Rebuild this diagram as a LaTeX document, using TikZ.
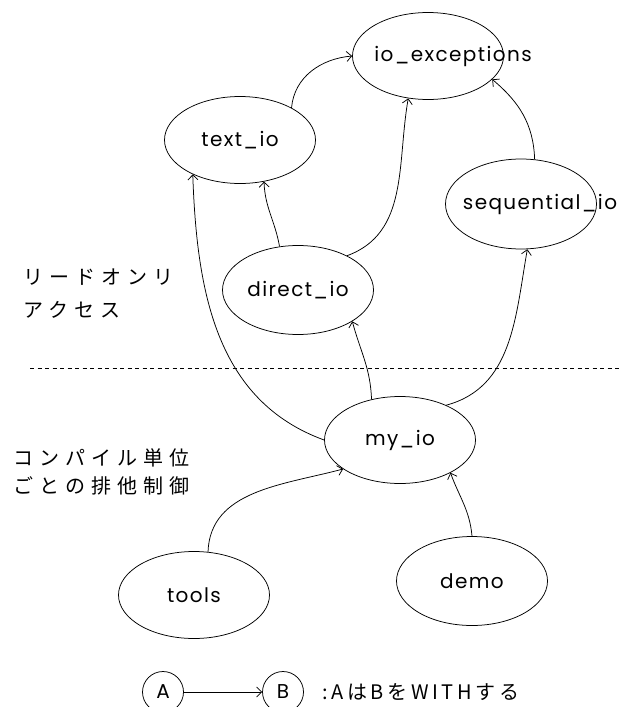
\documentclass[tikz,border=0pt]{standalone}
\usepackage{fontspec}
\setmainfont{Poppins}[LetterSpace=7]
\newfontfamily\jpfont{Noto Sans CJK JP}[LetterSpace=30]
\usetikzlibrary{arrows.meta,shapes.geometric}

\begin{document}
\begin{tikzpicture}[
        x = 1pt, y = -1pt,
        > = {Straight Barb[length=5pt,width=10pt]},
        line width = 0.75pt,
        unit/.style = {draw, ellipse, minimum width = 151pt, minimum height = 87pt, inner sep = 0pt, font = \fontsize{20}{24}\selectfont},
        tag/.style = {inner sep = 0pt, font = \fontsize{20}{24}\selectfont},
        note/.style = {anchor = west, inner sep = 0pt, font = \jpfont\fontsize{20}{24}\selectfont},
        key/.style = {draw, circle, minimum size = 41pt, inner sep = 0pt, font = \fontsize{20}{24}\selectfont}
    ]
        \useasboundingbox (0,0) rectangle (620,707);

        % packages
        \node[unit] (ioexc) at (428,56) {};
        \node[tag] (ioexc-t) at ([xshift=25]ioexc.center) {io\_exceptions};
        \node[unit] (textio) at (240,140) {text\_io};
        \node[unit, minimum height = 90pt] (seqio) at (521,204) {};
        \node[tag] (seqio-t) at ([xshift=19]seqio.center) {sequential\_io};
        \node[unit, minimum height = 89pt] (directio) at (298,290) {direct\_io};
        \node[unit] (myio) at (400,440) {my\_io};
        \node[unit] (tools) at (194,595) {tools};
        \node[unit, minimum height = 89pt] (demo) at (472,581) {demo};

        % boundary between the two regions
        \draw[dash pattern = on 4pt off 3.5pt] (30,368) -- (620,368);

        \node[note] (ro1) at (23,277) {リードオンリ};
        \node[note] (ro2) at (23,310) {アクセス};
        \node[note] (ex1) at (13,458) {コンパイル単位};
        \node[note] (ex2) at (13,486) {ごとの排他制御};

        % with-dependencies
        \draw[->] (textio.32) to[out=85, in=185] (ioexc.180);
        \draw[->] (directio.113) to[out=100, in=-88] (textio.300);
        \draw[->] (directio.35) to[out=20, in=-100] (ioexc.245);
        \draw[->] (seqio.73) to[out=92, in=-40] (ioexc.340);
        \draw[->] (myio.180) to[out=160, in=-88] (textio.216);
        \draw[->] (myio.125) to[out=92, in=-75] (directio.330);
        \draw[->] (myio.37) to[out=15, in=-100] (seqio.278);
        \draw[->] (tools.72) to[out=88, in=195] (myio.207);
        \draw[->] (demo.90) to[out=95, in=-70] (myio.327);

        % legend
        \node[key] (keyA) at (163,692) {A};
        \node[key] (keyB) at (283,692) {B};
        \draw[->] (keyA) -- (keyB);
        \node[note, font = \jpfont\fontsize{20}{24}\selectfont\addfontfeatures{LetterSpace=18}] (keytext) at (322,692) {:AはBをWITHする};
    \end{tikzpicture}
\end{document}
